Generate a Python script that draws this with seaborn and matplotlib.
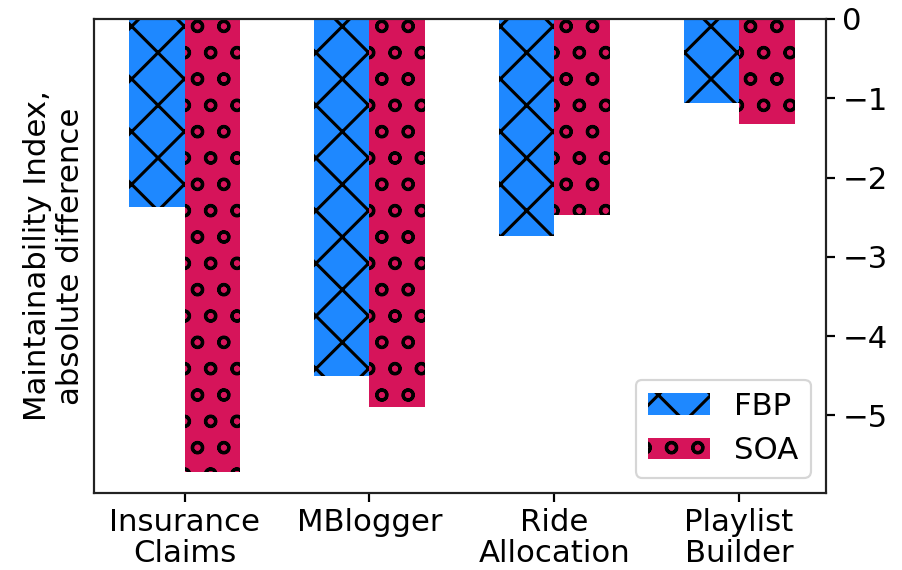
import matplotlib
matplotlib.use("Agg")
import matplotlib.pyplot as plt
import seaborn as sns
import pandas as pd

projects = ["Insurance\nClaims", "MBlogger", "Ride\nAllocation", "Playlist\nBuilder"]
approaches = ["FBP", "SOA"]
fbp_values = [-2.37, -4.51, -2.74, -1.06]
soa_values = [-5.72, -4.90, -2.47, -1.33]
colors = ["#1E88FF", "#D6145A"]
hatches = ["x", "o"]
y_ticks = [0, -1, -2, -3, -4, -5]

df = pd.DataFrame({
    "project": projects * 2,
    "approach": ["FBP"] * len(projects) + ["SOA"] * len(projects),
    "value": fbp_values + soa_values,
})

sns.set_style("ticks")
plt.rcParams["font.family"] = ["DejaVu Sans"]
plt.rcParams["text.color"] = "black"
plt.rcParams["axes.labelcolor"] = "black"
plt.rcParams["hatch.color"] = "black"
plt.rcParams["hatch.linewidth"] = 1.4

dpi = 158
fs = 14
fig = plt.figure(figsize=(902 / dpi, 570 / dpi), dpi=dpi)
ax = fig.add_axes([94 / 902, 1 - 493 / 570, (826 - 94) / 902, (493 - 19) / 570])

sns.barplot(data=df, x="project", y="value", hue="approach", hue_order=approaches,
            palette=colors, width=0.6, ax=ax, edgecolor="black", linewidth=0,
            errorbar=None, saturation=1)

for container, h in zip(ax.containers, hatches):
    for bar in container:
        bar.set_hatch(h)
        bar.set_edgecolor("black")
        bar.set_linewidth(0)

ax.set_xlim(-0.49, 3.47)
ax.set_ylim(-5.98, 0)
ax.yaxis.tick_right()
ax.set_yticks(y_ticks)
ax.set_yticklabels(["0"] + [f"\u2212{abs(v)}" for v in y_ticks[1:]])
ax.yaxis.set_label_position("left")
ax.set_ylabel("Maintainability Index,\nabsolute difference", fontsize=fs, color="black")
ax.set_xlabel("")
ax.tick_params(axis="both", labelsize=fs, colors="black", width=1, length=4)
ax.tick_params(axis="x", pad=3)
for lbl in ax.get_xticklabels():
    lbl.set_linespacing(1.05)
for s in ax.spines.values():
    s.set_visible(True)
    s.set_color("#222222")
    s.set_linewidth(1.0)

leg = ax.legend(loc="lower right", fontsize=fs, handlelength=2.0, framealpha=0.8)
for text in leg.get_texts():
    text.set_color("black")
for patch, h in zip(leg.get_patches(), hatches):
    patch.set_hatch(h)
    patch.set_edgecolor("black")
    patch.set_linewidth(0)

fig.savefig("out.png", dpi=dpi)
